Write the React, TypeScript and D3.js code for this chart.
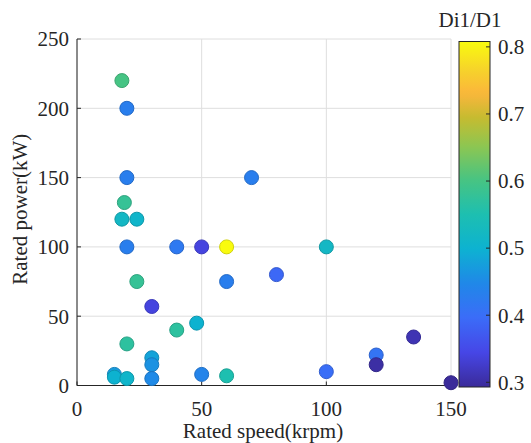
import React from 'react';
import * as d3 from 'd3';

// Data
const speed = [18, 20, 20, 70, 19, 18, 24, 20, 40, 50, 60, 100, 24, 60, 80, 30, 48, 40, 20, 30, 30, 15, 15, 20, 30, 50, 60, 100, 120, 120, 135, 150];
const power = [220, 200, 150, 150, 132, 120, 120, 100, 100, 100, 100, 100, 75, 75, 80, 57, 45, 40, 30, 20, 15, 8, 6, 5, 5, 8, 7, 10, 22, 15, 35, 2];
const ratio = [0.6, 0.43, 0.43, 0.43, 0.58, 0.52, 0.51, 0.43, 0.42, 0.34, 0.808, 0.52, 0.58, 0.43, 0.39, 0.34, 0.5, 0.57, 0.57, 0.48, 0.46, 0.47, 0.5, 0.51, 0.45, 0.44, 0.55, 0.4, 0.41, 0.3, 0.31, 0.293];

const xTicks = [0, 50, 100, 150];
const yTicks = [0, 50, 100, 150, 200, 250];
const cTicks = [0.3, 0.4, 0.5, 0.6, 0.7, 0.8];

// parula-like colour stops
const parulaStops = ['#3b2b9a', '#4646e6', '#3b6cf8', '#2088e8', '#0db2d1', '#1dbfb0', '#48c482', '#8fc650', '#c6bb30', '#fbb63c', '#f6d42a', '#f9fb0e'];
const parulaPos = [0, 0.1, 0.2, 0.3, 0.4, 0.5, 0.6, 0.7, 0.78, 0.85, 0.92, 1];

const W = 531;
const H = 443;
const font = '"Liberation Serif", "Times New Roman", serif';
const fs = 21;

export default function App() {
  const x = d3.scaleLinear().domain([0, 150]).range([77, 451]);
  const y = d3.scaleLinear().domain([0, 250]).range([385.5, 39]);
  const cMin = 0.293, cMax = 0.808;
  const tScale = d3.scaleLinear().domain(parulaPos).range(parulaStops as any).interpolate(d3.interpolateRgb as any);
  const color = (v: number) => tScale((v - cMin) / (cMax - cMin)) as unknown as string;
  const cb = d3.scaleLinear().domain([cMin, cMax]).range([387, 41.5]);
  const cbX = 459, cbW = 31;

  const gradStops = d3.range(0, 1.0001, 0.02);
  const points = speed.map((s, i) => ({ s, p: power[i], c: ratio[i] }));

  return (
    <svg width={W} height={H} style={{ position: 'absolute', left: 0, top: 0, background: '#fff' }} fontFamily={font}>
      <defs>
        <linearGradient id="cbg" x1="0" y1="1" x2="0" y2="0">
          {gradStops.map(t => (
            <stop key={t} offset={t} stopColor={tScale(t) as unknown as string} />
          ))}
        </linearGradient>
      </defs>

      {/* grid */}
      {yTicks.map(t => (
        <line key={'gy' + t} x1={x(0)} x2={x(150)} y1={y(t)} y2={y(t)} stroke="#dedede" strokeWidth={1} />
      ))}
      {xTicks.map(t => (
        <line key={'gx' + t} x1={x(t)} x2={x(t)} y1={y(0)} y2={y(250)} stroke="#dedede" strokeWidth={1} />
      ))}

      {/* axes */}
      <line x1={x(0)} x2={x(0)} y1={y(0)} y2={y(250)} stroke="#262626" strokeWidth={1} />
      <line x1={x(0)} x2={x(150)} y1={y(0)} y2={y(0)} stroke="#262626" strokeWidth={1} />
      {yTicks.map(t => (
        <g key={'ty' + t}>
          <line x1={x(0)} x2={x(0) + 4} y1={y(t)} y2={y(t)} stroke="#262626" />
          <text x={x(0) - 8} y={y(t)} dy="0.35em" textAnchor="end" fontSize={fs} fill="#262626">{t}</text>
        </g>
      ))}
      {xTicks.map(t => (
        <g key={'tx' + t}>
          <line x1={x(t)} x2={x(t)} y1={y(0)} y2={y(0) - 4} stroke="#262626" />
          <text x={x(t)} y={y(0) + 23} dy="0.35em" textAnchor="middle" fontSize={fs} fill="#262626">{t}</text>
        </g>
      ))}

      <text x={(x(0) + x(150)) / 2 - 1} y={438} textAnchor="middle" fontSize={fs} fill="#262626">Rated speed(krpm)</text>
      <text transform={`translate(27,${(y(0) + y(250)) / 2 - 3}) rotate(-90)`} textAnchor="middle" fontSize={fs} fill="#262626">Rated power(kW)</text>

      {/* points */}
      {points.map((d, i) => {
        const f = color(d.c);
        return (
          <circle key={i} cx={x(d.s)} cy={y(d.p)} r={7} fill={f} stroke={d3.color(f)!.darker(0.5).formatHex()} strokeWidth={1} />
        );
      })}

      {/* colorbar */}
      <rect x={cbX} y={cb(cMax)} width={cbW} height={cb(cMin) - cb(cMax)} fill="url(#cbg)" stroke="#262626" strokeWidth={1} />
      {cTicks.map(t => (
        <g key={'ct' + t}>
          <line x1={cbX + cbW} x2={cbX + cbW - 4} y1={cb(t)} y2={cb(t)} stroke="#262626" />
          <text x={cbX + cbW + 8} y={cb(t)} dy="0.35em" fontSize={fs} fill="#262626">{t.toFixed(1)}</text>
        </g>
      ))}
      <text x={470} y={27} textAnchor="middle" fontSize={fs} fill="#262626">Di1/D1</text>
    </svg>
  );
}
